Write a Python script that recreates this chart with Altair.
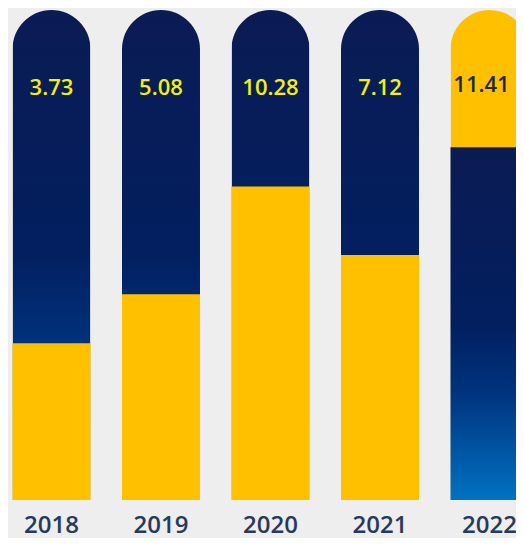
import altair as alt
import pandas as pd

# ---- data ----
years = ["2018", "2019", "2020", "2021", "2022"]
values = [3.73, 5.08, 10.28, 7.12, 11.41]
# share of the column filled by the lower segment (percent of column height)
lower_share = [32, 42, 64, 50, 72]
highlight = [False, False, False, False, True]

df = pd.DataFrame({
    "year": years,
    "value": values,
    "share": lower_share,
    "total": [100] * len(years),
    "hl": highlight,
    "label": [f"{v:.2f}" for v in values],
})

NAVY_GRAD = alt.Gradient(
    gradient="linear", x1=0, y1=0, x2=0, y2=1,
    stops=[
        alt.GradientStop(offset=0, color="#0b1b54"),
        alt.GradientStop(offset=0.5, color="#021f5f"),
        alt.GradientStop(offset=0.7, color="#00347f"),
        alt.GradientStop(offset=1, color="#0072c2"),
    ],
)
YELLOW = "#ffc000"

x_enc = alt.X(
    "year:N",
    sort=years,
    title=None,
    scale=alt.Scale(range=[0, 525], paddingInner=0.2877, paddingOuter=0.0411),
    axis=alt.Axis(
        domain=False, ticks=False, grid=False, labelAngle=0,
        labelFont="Open Sans", labelFontSize=24, labelFontWeight=600,
        labelColor="#27395c", labelPadding=32, labelBaseline="alphabetic",
    ),
)
y_scale = alt.Scale(domain=[0, 100])

base = alt.Chart(df).encode(x=x_enc)

col_navy = base.transform_filter("!datum.hl").mark_bar(
    color=NAVY_GRAD, cornerRadiusEnd=39
).encode(y=alt.Y("total:Q", scale=y_scale, axis=None))

col_yellow = base.transform_filter("datum.hl").mark_bar(
    color=YELLOW, cornerRadiusEnd=39
).encode(y=alt.Y("total:Q", scale=y_scale, axis=None))

low_yellow = base.transform_filter("!datum.hl").mark_bar(
    color=YELLOW
).encode(y=alt.Y("share:Q", scale=y_scale, axis=None))

low_navy = base.transform_filter("datum.hl").mark_bar(
    color=NAVY_GRAD
).encode(y=alt.Y("share:Q", scale=y_scale, axis=None))

labels = base.transform_filter("!datum.hl").mark_text(
    font="Open Sans", fontSize=22, fontWeight=600, baseline="middle", dy=78,
    color="#f4ef0c",
).encode(
    y=alt.Y("total:Q", scale=y_scale, axis=None),
    text="label:N",
)

label_hl = base.transform_filter("datum.hl").mark_text(
    font="Open Sans", fontSize=22, fontWeight=600, baseline="middle", dy=75,
    dx=-8, color="#1c2747",
).encode(
    y=alt.Y("total:Q", scale=y_scale, axis=None),
    text="label:N",
)

chart = alt.layer(
    col_navy, col_yellow, low_yellow, low_navy, labels, label_hl
).properties(
    width=508, height=490,
    autosize=alt.AutoSizeParams(type="none"),
    padding={"left": 0, "top": 2, "right": 0, "bottom": 38},
    background="#eeeeee",
).configure_view(stroke=None)

chart.save("out.html", embed_options={"renderer": "svg", "actions": False})
